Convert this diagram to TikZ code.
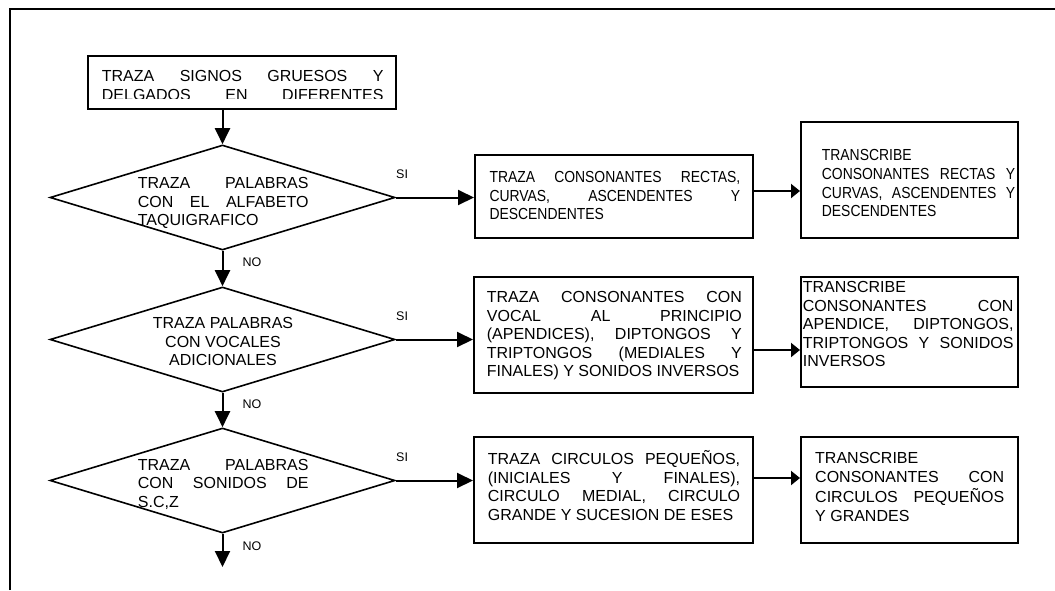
\documentclass[tikz,border=0pt]{standalone}
\usepackage{fontspec}
\setmainfont{Liberation Sans}
\newfontfamily\narrowfont[FakeStretch=0.87]{Liberation Sans}
\usetikzlibrary{shapes.geometric,arrows.meta}
\newcommand{\jline}[2]{\makebox[#1][s]{\spaceskip=0pt\xspaceskip=0pt\relax\strut #2}}
\newcommand{\pline}[1]{\mbox{\spaceskip=0pt\xspaceskip=0pt\relax\strut #1}}
\begin{document}
\begin{tikzpicture}[x=1pt,y=-1pt,
  font=\fontsize{16}{18.5}\selectfont,
  box/.style={draw, rectangle, line width=2pt, inner sep=0pt},
  dia/.style={draw, diamond, line width=1.6pt, inner sep=0pt, minimum width=345pt, minimum height=105pt},
  txt/.style={inner sep=0pt, anchor=north west, align=left},
  arr/.style={line width=2pt, -{Triangle[length=16pt,width=15pt]}},
  arrs/.style={line width=2pt, -{Triangle[length=9pt,width=14pt]}},
  lbl/.style={inner sep=0pt, anchor=base west, font=\fontsize{12.5}{15}\selectfont}]
\useasboundingbox[fill=white] (0,0) rectangle (1055,590);
% frame
\draw[line width=2pt] (9.5,590) -- (9.5,9) -- (1055,9);
% boxes
\node[box, minimum width=308pt, minimum height=53pt] (start) at (242,82.5) {};
\node[dia] (d1) at (222.5,197.5) {};
\node[dia] (d2) at (222.5,339.5) {};
\node[dia] (d3) at (222.5,480.5) {};
\node[box, minimum width=278pt, minimum height=83pt] (m1) at (614,196.5) {};
\node[box, minimum width=279pt, minimum height=116pt] (m2) at (613.5,335) {};
\node[box, minimum width=279pt, minimum height=106pt] (m3) at (613.5,490) {};
\node[box, minimum width=217pt, minimum height=116pt] (r1) at (909.5,180) {};
\node[box, minimum width=217pt, minimum height=110pt] (r2) at (909.5,332) {};
\node[box, minimum width=217pt, minimum height=106pt] (r3) at (909.5,490) {};
\coordinate (endp) at (222.5,567);
% texts
\begin{scope}
\clip (88,56) rectangle (396,98.5);
\node[txt, text width=290pt] (ts) at (101.7,68.55) {\jline{281.6pt}{TRAZA SIGNOS GRUESOS Y}\\\jline{281.6pt}{DELGADOS EN DIFERENTES}};
\end{scope}
\node[txt, text width=190pt] (t1) at (137.7,175.35) {\jline{170.6pt}{TRAZA PALABRAS}\\\jline{170.6pt}{CON EL ALFABETO}\\\pline{TAQUIGRAFICO}};
\node[inner sep=0pt, anchor=north, align=center] (t2) at (223,315.35) {\pline{TRAZA PALABRAS}\\\pline{CON VOCALES}\\\pline{ADICIONALES}};
\node[txt, text width=190pt] (t3) at (137.7,457.05) {\jline{170.6pt}{TRAZA PALABRAS}\\\jline{170.6pt}{CON SONIDOS DE}\\\pline{S.C,Z}};
\node[txt, text width=270pt, font=\narrowfont\fontsize{16}{18.5}\selectfont] (tm1) at (489.3,169.35) {\jline{250.7pt}{TRAZA CONSONANTES RECTAS,}\\\jline{250.7pt}{CURVAS, ASCENDENTES Y}\\\pline{DESCENDENTES}};
\node[txt, text width=210pt, font=\narrowfont\fontsize{16}{18.8}\selectfont] (tr1) at (821.7,147.05) {\pline{TRANSCRIBE}\\\jline{193.3pt}{CONSONANTES RECTAS Y}\\\jline{193.3pt}{CURVAS, ASCENDENTES Y}\\\pline{DESCENDENTES}};
\node[txt, text width=275pt] (tm2) at (486.7,289.75) {\jline{255pt}{TRAZA CONSONANTES CON}\\\jline{255pt}{VOCAL AL PRINCIPIO}\\\jline{255pt}{(APENDICES), DIPTONGOS Y}\\\jline{255pt}{TRIPTONGOS (MEDIALES Y}\\\pline{FINALES) Y SONIDOS INVERSOS}};
\node[txt, text width=230pt] (tr2) at (802.7,279.75) {\pline{TRANSCRIBE}\\\jline{210.6pt}{CONSONANTES CON}\\\jline{210.6pt}{APENDICE, DIPTONGOS,}\\\jline{210.6pt}{TRIPTONGOS Y SONIDOS}\\\pline{INVERSOS}};
\node[txt, text width=270pt] (tm3) at (487.7,450.35) {\jline{252.3pt}{TRAZA CIRCULOS PEQUEÑOS,}\\\jline{252.3pt}{(INICIALES Y FINALES),}\\\jline{252.3pt}{CIRCULO MEDIAL, CIRCULO}\\\pline{GRANDE Y SUCESION DE ESES}};
\node[txt, text width=210pt] (tr3) at (815,450.35) {\pline{TRANSCRIBE}\\\jline{189pt}{CONSONANTES CON}\\\jline{189pt}{CIRCULOS PEQUEÑOS}\\\pline{Y GRANDES}};
% labels
\node[lbl] (si1) at (396,178.3) {SI};
\node[lbl] (si2) at (396,320) {SI};
\node[lbl] (si3) at (396,461.7) {SI};
\node[lbl] (no1) at (242.3,266.7) {NO};
\node[lbl] (no2) at (242.3,408.3) {NO};
\node[lbl] (no3) at (242.3,550.7) {NO};
% connectors
\draw[arr] (start.south -| d1.north) -- (d1.north);
\draw[arr] (d1.south) -- (d2.north);
\draw[arr] (d2.south) -- (d3.north);
\draw[arr] (d3.south) -- (endp);
\draw[arr] (d1.east) -- (d1.east -| m1.west);
\draw[arr] (d2.east) -- (d2.east -| m2.west);
\draw[arr] (d3.east) -- (d3.east -| m3.west);
\draw[arrs] ([yshift=5.5pt]m1.east) -- ([yshift=5.5pt]m1.east -| r1.west);
\draw[arrs] ([yshift=-15pt]m2.east) -- ([yshift=-15pt]m2.east -| r2.west);
\draw[arrs] ([yshift=12pt]m3.east) -- ([yshift=12pt]m3.east -| r3.west);
\end{tikzpicture}
\end{document}
